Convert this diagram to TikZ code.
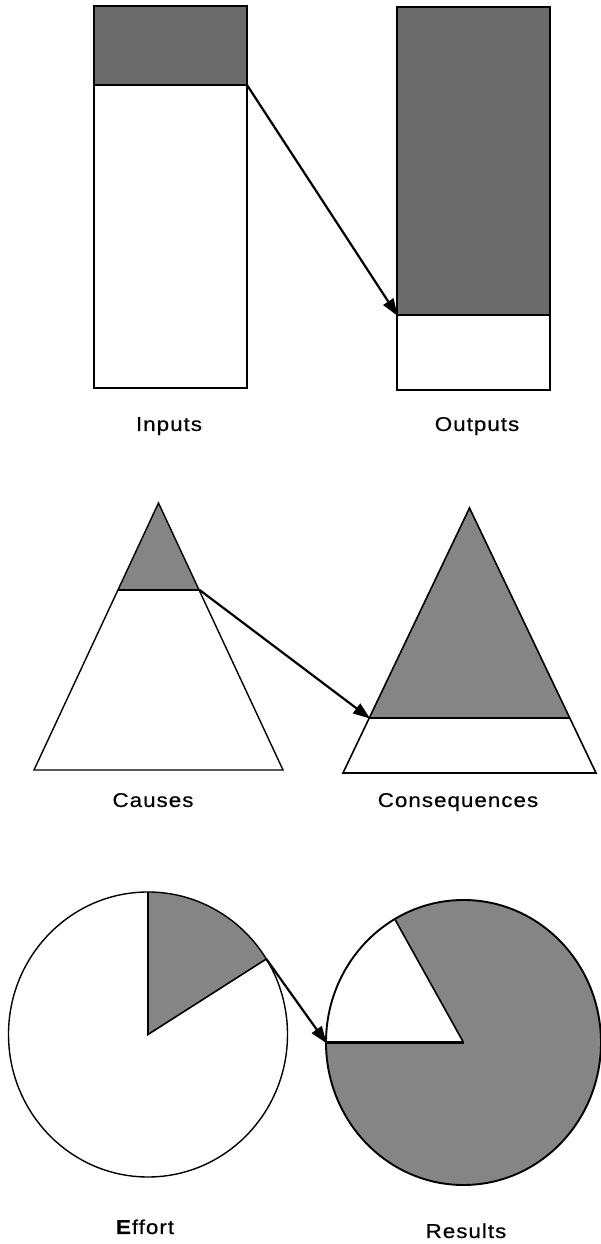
\documentclass[tikz,border=0pt]{standalone}
\usepackage{fontspec}
\setmainfont{Liberation Sans}[FakeStretch=1.12,LetterSpace=5,FakeBold=0.5]
\usetikzlibrary{arrows.meta}
\begin{document}
\begin{tikzpicture}[x=1pt,y=1pt,
  outl/.style={draw=black,line width=1.6pt,line join=miter},
  divider/.style={draw=black,line width=2.6pt},
  darkfill/.style={fill=black!58},
  midfill/.style={fill=black!48},
  link/.style={draw=black,line width=2.2pt,-{Triangle[length=17pt,width=12pt]},shorten >=-1pt},
  lbl/.style={font=\fontsize{20}{22}\selectfont,anchor=base,inner sep=0pt}]
\useasboundingbox (0,0) rectangle (601,1244);

% ---------- rectangles ----------
\fill[darkfill] (94,1238) rectangle (247,1159);
\draw[outl] (94,1238) rectangle (247,856);
\draw[divider] (94,1159) -- (247,1159);
\coordinate (inTop) at (247,1159);

\fill[darkfill] (397,1237) rectangle (550,929);
\draw[outl] (397,1237) rectangle (550,854);
\draw[divider] (397,929) -- (550,929);
\coordinate (outTop) at (397,929);

\draw[link] (inTop) -- (outTop);
\node[lbl] (inputs) at (169,813) {Inputs};
\node[lbl] (outputs) at (477,813) {Outputs};

% ---------- triangles ----------
\begin{scope}
  \clip (158.5,741) -- (34,474) -- (283,474) -- cycle;
  \fill[midfill] (0,654) rectangle (300,760);
\end{scope}
\draw[outl,line width=1.4pt] (158.5,741) -- (34,474) -- (283,474) -- cycle;
\draw[divider] (118.4,654) -- (199.6,654);
\coordinate (causeTop) at (199.6,654);

\begin{scope}
  \clip (469.5,736) -- (343,471) -- (596,471) -- cycle;
  \fill[midfill] (330,526) rectangle (601,760);
\end{scope}
\draw[outl] (469.5,736) -- (343,471) -- (596,471) -- cycle;
\draw[divider] (369.3,526) -- (569.7,526);
\coordinate (consTop) at (369.3,526);

\draw[link] (causeTop) -- (consTop);
\node[lbl] (causes) at (153,437) {Causes};
\node[lbl] (consequences) at (458,437) {Consequences};

% ---------- circles ----------
\fill[midfill] (148,209.5) -- (148,352) arc[start angle=90,end angle=32,x radius=139.5,y radius=142.5] -- cycle;
\draw[outl,line width=1.4pt] (148,209.5) ellipse[x radius=139.5,y radius=142.5];
\draw[outl] (148,352) -- (148,209.5) -- (266.3,285.0);
\coordinate (effortEdge) at (266.3,285.0);

\fill[midfill] (463.5,201.5) ellipse[x radius=137.5,y radius=142.5];
\fill[white] (463.5,201.5) -- (326,201.5) arc[start angle=180,end angle=120,x radius=137.5,y radius=142.5] -- cycle;
\draw[outl,line width=1.9pt] (463.5,201.5) ellipse[x radius=137.5,y radius=142.5];
\draw[outl] (394.8,324.9) -- (463.5,201.5);
\draw[divider] (463.5,201.5) -- (326,201.5);
\coordinate (resultEdge) at (326,201.5);

\draw[link] (effortEdge) -- (resultEdge);
\node[lbl] (effort) at (145,10) {\textbf{E}ffort};
\node[lbl] (results) at (466,6) {Results};
\end{tikzpicture}
\end{document}
